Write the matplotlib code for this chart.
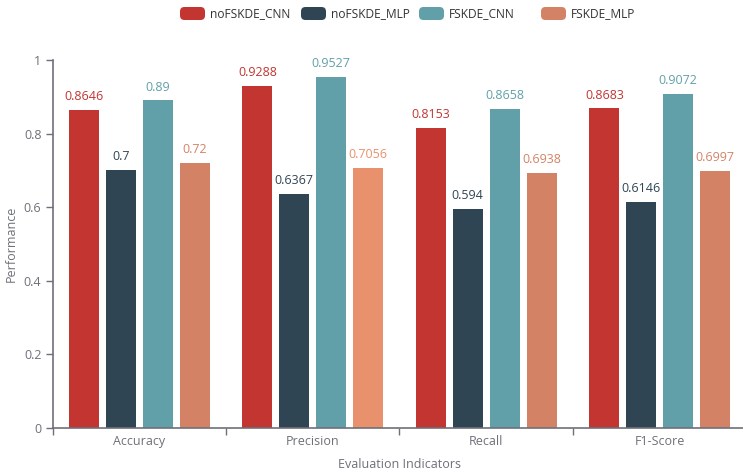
import matplotlib
matplotlib.use("Agg")
import matplotlib.pyplot as plt
from matplotlib.patches import FancyBboxPatch
import numpy as np

plt.rcParams['font.family'] = ['Open Sans', 'DejaVu Sans']

categories = ["Accuracy", "Precision", "Recall", "F1-Score"]
series_names = ["noFSKDE_CNN", "noFSKDE_MLP", "FSKDE_CNN", "FSKDE_MLP"]
noFSKDE_CNN = [0.8646, 0.9288, 0.8153, 0.8683]
noFSKDE_MLP = [0.7, 0.6367, 0.594, 0.6146]
FSKDE_CNN = [0.89, 0.9527, 0.8658, 0.9072]
FSKDE_MLP = [0.72, 0.7056, 0.6938, 0.6997]
series_values = [noFSKDE_CNN, noFSKDE_MLP, FSKDE_CNN, FSKDE_MLP]
colors = ["#c23531", "#2f4554", "#61a0a8", "#d48265"]
highlight_color = "#e8916c"   # emphasised bar (Precision / FSKDE_MLP)

W, H = 743, 475
fig = plt.figure(figsize=(W / 100, H / 100), dpi=100)
ax_left, ax_right = 52.5, 746.5
ax_top, ax_bottom = 60, 428
ax = fig.add_axes([ax_left / W, (H - ax_bottom) / H,
                   (ax_right - ax_left) / W, (ax_bottom - ax_top) / H])

axis_color = "#6e7079"
text_color = "#6e7079"

x = np.arange(len(categories))
bar_w = 0.172
step = 0.213
offsets = (np.arange(4) - 1.5) * step
for i, (name, vals) in enumerate(zip(series_names, series_values)):
    for j, v in enumerate(vals):
        c = colors[i]
        if i == 3 and j == 1:
            c = highlight_color
        ax.bar(x[j] + offsets[i], v, width=bar_w, color=c, zorder=2,
               linewidth=0)
        ax.annotate(f"{v:g}", (x[j] + offsets[i], v), xytext=(0, 5),
                    textcoords="offset points", ha="center", va="bottom",
                    fontsize=9, color=c)

ax.set_xlim(-0.5, len(categories) - 0.5)
ax.set_ylim(0, 1)
ax.set_yticks([0, 0.2, 0.4, 0.6, 0.8, 1])
ax.set_yticklabels(["0", "0.2", "0.4", "0.6", "0.8", "1"])
ax.set_xticks(x)
ax.set_xticklabels(categories)
ax.set_xticks(np.arange(len(categories) + 1) - 0.5, minor=True)

for s in ["top", "right"]:
    ax.spines[s].set_visible(False)
for s in ["left", "bottom"]:
    ax.spines[s].set_color(axis_color)
    ax.spines[s].set_linewidth(1.2)
ax.tick_params(axis="y", length=5, width=1, color=axis_color,
               labelcolor=text_color, labelsize=9, pad=3)
ax.tick_params(axis="x", which="major", length=0, labelcolor=text_color,
               labelsize=9, pad=5)
ax.tick_params(axis="x", which="minor", length=5, width=1, color=axis_color)

# axis titles
fig.text(11 / W, (H - 244) / H, "Performance", rotation=90, fontsize=9,
         color=text_color, ha="center", va="center")
fig.text(399 / W, (H - 465) / H, "Evaluation Indicators", fontsize=9,
         color=text_color, ha="center", va="center")

# legend drawn across the top; text sized so each label fits its slot
legend_x = [180, 301, 419, 541]
renderer = fig.canvas.get_renderer()
probe = fig.text(0, 0, series_names[0], fontsize=10)
probe_w = probe.get_window_extent(renderer).width
probe.remove()
legend_size = 10 * 80 / probe_w
for lx, name, c in zip(legend_x, series_names, colors):
    patch = FancyBboxPatch((lx / W, (H - 20) / H), 25 / W, 13 / H,
                           boxstyle="round,pad=0,rounding_size=0.006",
                           transform=fig.transFigure, facecolor=c,
                           edgecolor="none", mutation_aspect=W / H)
    fig.patches.append(patch)
    fig.text((lx + 30) / W, (H - 13.5) / H, name, fontsize=legend_size,
             color="#333333", ha="left", va="center")

fig.savefig("out.png", dpi=100)
